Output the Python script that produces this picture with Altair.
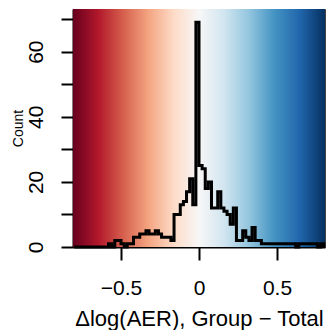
import altair as alt
import pandas as pd

# Histogram: bins of width 0.02 starting at -0.80
bin_start = -0.80
bin_width = 0.02
counts = [
    0, 0, 0, 0, 0, 0, 0, 0, 0, 0,      # -0.80 .. -0.62
    0, 1, 0, 2, 2, 1, 0, 1, 1, 3,      # -0.60 .. -0.42
    3, 4, 4, 5, 4, 4, 5, 4, 3, 3,      # -0.40 .. -0.22
    3, 2, 10, 10, 13, 14, 17, 21, 13, 69,  # -0.20 .. -0.02
    25, 24, 18, 20, 12, 12, 17, 12, 11, 10,  # 0.00 .. 0.18
    7, 12, 2, 2, 5, 3, 2, 6, 2, 2,     # 0.20 .. 0.38
    1, 1, 1, 1, 1, 1, 1, 1, 1, 1,      # 0.40 .. 0.58
    1, 0, 1, 1, 1, 1, 1, 1, 0, 1,      # 0.60 .. 0.78
]
x_ticks = [-0.5, 0, 0.5]
y_ticks = [0, 10, 20, 30, 40, 50, 60, 70]
x_title = "Δlog(AER), Group − Total"
y_title = "Count"
rdbu = ["#67001f", "#b2182b", "#d6604d", "#f4a582", "#fddbc7", "#f7f7f7",
        "#d1e5f0", "#92c5de", "#4393c3", "#2166ac", "#053061"]

xs = [round(bin_start + bin_width * i, 2) for i in range(len(counts))]
xs.append(round(bin_start + bin_width * len(counts), 2))
ys = counts + [0]
df = pd.DataFrame({"x": xs, "count": ys})

W, H = 252, 238
XDOM = [-0.8077, 0.8077]
YDOM = [0, 73.1]

grad = {
    "gradient": "linear", "x1": 0, "x2": 1, "y1": 0, "y2": 0,
    "stops": [{"offset": i / (len(rdbu) - 1), "color": c} for i, c in enumerate(rdbu)],
}

bg = alt.Chart(pd.DataFrame({"a": [0]})).mark_rect(fill=grad, stroke=None).encode(
    x=alt.value(0), x2=alt.value(W), y=alt.value(0), y2=alt.value(H)
)

font = "Liberation Sans"

line = alt.Chart(df).mark_line(
    interpolate="step-after", color="black", strokeWidth=3, strokeJoin="miter"
).encode(
    x=alt.X("x:Q", scale=alt.Scale(domain=XDOM, nice=False, zero=False),
            axis=alt.Axis(values=x_ticks, format=".1~f", title=x_title,
                          tickSize=13, labelPadding=17, labelFlush=False,
                          labelFontSize=21, titleFontSize=22,
                          titleBaseline="alphabetic", titleY=78, titleX=W / 2,
                          titleAlign="center", grid=False)),
    y=alt.Y("count:Q", scale=alt.Scale(domain=YDOM, nice=False),
            axis=alt.Axis(values=y_ticks, title=y_title,
                          labelExpr="datum.value % 20 == 0 ? datum.label : ''",
                          tickSize=12, labelPadding=25, labelAngle=270,
                          labelAlign="center", labelBaseline="middle",
                          labelFlush=False, labelFontSize=21,
                          titleFontSize=14, titleAngle=270, titleX=-55,
                          titleY=H / 2, titleAlign="center",
                          titleBaseline="middle", grid=False)),
)

chart = alt.layer(bg, line).properties(
    width=W, height=H,
    autosize=alt.AutoSizeParams(type="none"),
    padding={"left": 73, "top": 9, "right": 7, "bottom": 83},
    background="white",
).configure_view(
    stroke="#444", strokeWidth=1
).configure_axis(
    domainColor="black", domainWidth=2, tickColor="black", tickWidth=2,
    labelColor="black", titleColor="black", labelFont=font, titleFont=font,
    titleFontWeight="normal", labelOverlap=False, labelBound=False,
)

chart.save("out.html", embed_options={"renderer": "svg", "actions": False})
